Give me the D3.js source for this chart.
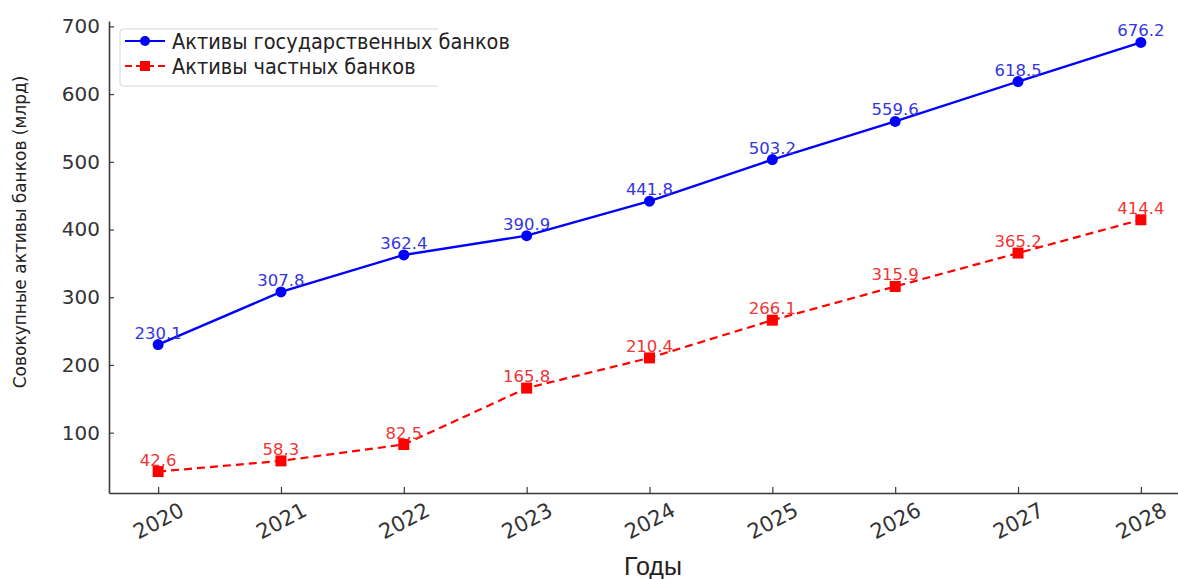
<!DOCTYPE html>
<html>
<head>
<meta charset="utf-8">
<script src="https://cdn.jsdelivr.net/npm/d3@7"></script>
<style>
  body { margin: 0; background: #fff; overflow: hidden; }
  svg { display: block; }
</style>
</head>
<body>
<script>
const years = [2020, 2021, 2022, 2023, 2024, 2025, 2026, 2027, 2028];
const stateAssets = [230.1, 307.8, 362.4, 390.9, 441.8, 503.2, 559.6, 618.5, 676.2];
const privateAssets = [42.6, 58.3, 82.5, 165.8, 210.4, 266.1, 315.9, 365.2, 414.4];
const yTicks = [100, 200, 300, 400, 500, 600, 700];
const seriesNames = ["Активы государственных банков", "Активы частных банков"];

const w = 1178, h = 579;

const svg = d3.select("body").append("svg")
  .attr("width", w)
  .attr("height", h);

// scales (the plot runs a bit past the right edge, like the source)
const x = d3.scaleLinear().domain([2019.6, 2028.4]).range([109, 1190]);
const y = d3.scaleLinear().domain([10.9, 707.9]).range([493, 21]);

const axisColor = "#3a3a3a";

// y axis
const yAxis = svg.append("g")
  .attr("transform", "translate(109,0)")
  .call(d3.axisLeft(y).tickValues(yTicks).tickSizeInner(-5).tickSizeOuter(0).tickPadding(9));
yAxis.select(".domain").attr("stroke", axisColor).attr("stroke-width", 1.6);
yAxis.selectAll(".tick line").attr("stroke", axisColor).attr("stroke-width", 1.2);
yAxis.selectAll("text")
  .attr("fill", "#333")
  .style("font-family", "DejaVu Sans")
  .style("font-size", "20px");

// x axis
const xAxis = svg.append("g")
  .attr("transform", "translate(0,493)")
  .call(d3.axisBottom(x).tickValues(years).tickFormat(d3.format("d")).tickSizeInner(-6).tickSizeOuter(0));
xAxis.select(".domain").attr("stroke", axisColor).attr("stroke-width", 1.6);
xAxis.selectAll(".tick line").attr("stroke", axisColor).attr("stroke-width", 1.2);
xAxis.selectAll("text")
  .attr("fill", "#333")
  .attr("dy", null)
  .attr("y", 0)
  .attr("text-anchor", "middle")
  .attr("dominant-baseline", "central")
  .attr("transform", "translate(0,28) rotate(-28)")
  .style("font-family", "DejaVu Sans")
  .style("font-size", "21px");

// axis titles
svg.append("text")
  .attr("transform", "translate(26,232) rotate(-90)")
  .attr("text-anchor", "middle")
  .attr("fill", "#222")
  .style("font-family", "DejaVu Sans")
  .style("font-size", "17px")
  .text("Совокупные активы банков (млрд)");

svg.append("text")
  .attr("x", 653)
  .attr("y", 575)
  .attr("text-anchor", "middle")
  .attr("fill", "#222")
  .style("font-family", "Liberation Sans")
  .style("font-size", "25px")
  .text("Годы");

const line = d3.line()
  .x((d, i) => x(years[i]))
  .y(d => y(d));

// state banks
svg.append("path")
  .datum(stateAssets)
  .attr("d", line)
  .attr("fill", "none")
  .attr("stroke", "#0000ff")
  .attr("stroke-width", 2.4);

svg.selectAll(".pt-state")
  .data(stateAssets)
  .enter().append("circle")
  .attr("class", "pt-state")
  .attr("cx", (d, i) => x(years[i]))
  .attr("cy", d => y(d))
  .attr("r", 5.5)
  .attr("fill", "#0000ff");

svg.selectAll(".lb-state")
  .data(stateAssets)
  .enter().append("text")
  .attr("class", "lb-state")
  .attr("x", (d, i) => x(years[i]))
  .attr("y", d => y(d) - 6)
  .attr("text-anchor", "middle")
  .attr("fill", "#3535e0")
  .style("font-family", "DejaVu Sans")
  .style("font-size", "16.5px")
  .text(d => d.toFixed(1));

// private banks
svg.append("path")
  .datum(privateAssets)
  .attr("d", line)
  .attr("fill", "none")
  .attr("stroke", "#ff0000")
  .attr("stroke-width", 2.2)
  .attr("stroke-dasharray", "8,5");

svg.selectAll(".pt-private")
  .data(privateAssets)
  .enter().append("rect")
  .attr("class", "pt-private")
  .attr("x", (d, i) => x(years[i]) - 5.5)
  .attr("y", d => y(d) - 5.5)
  .attr("width", 11)
  .attr("height", 11)
  .attr("fill", "#ff0000");

svg.selectAll(".lb-private")
  .data(privateAssets)
  .enter().append("text")
  .attr("class", "lb-private")
  .attr("x", (d, i) => x(years[i]))
  .attr("y", d => y(d) - 6)
  .attr("text-anchor", "middle")
  .attr("fill", "#f03535")
  .style("font-family", "DejaVu Sans")
  .style("font-size", "16.5px")
  .text(d => d.toFixed(1));

// legend (frame open on the right, text runs past it as in the source)
const legend = svg.append("g").attr("transform", "translate(120,29)");
legend.append("rect")
  .attr("width", 400)
  .attr("height", 57)
  .attr("fill", "#fff")
  .attr("fill-opacity", 0.85);
legend.append("path")
  .attr("d", "M318,0 H3 Q0,0 0,3 V54 Q0,57 3,57 H318")
  .attr("fill", "none")
  .attr("stroke", "#d5d5d5");

const legendRows = [
  { name: seriesNames[0], color: "#0000ff", dash: null, shape: "circle" },
  { name: seriesNames[1], color: "#ff0000", dash: "7,4", shape: "square" }
];

legendRows.forEach((r, i) => {
  const g = legend.append("g").attr("transform", "translate(0," + (12 + i * 25) + ")");
  g.append("line")
    .attr("x1", 5).attr("x2", 45)
    .attr("stroke", r.color)
    .attr("stroke-width", 2.2)
    .attr("stroke-dasharray", r.dash);
  if (r.shape === "circle") {
    g.append("circle").attr("cx", 25).attr("r", 5).attr("fill", r.color);
  } else {
    g.append("rect").attr("x", 20).attr("y", -5).attr("width", 10).attr("height", 10).attr("fill", r.color);
  }
  g.append("text")
    .attr("x", 52)
    .attr("y", 0)
    .attr("dominant-baseline", "central")
    .attr("fill", "#222")
    .style("font-family", "DejaVu Sans Condensed, DejaVu Sans")
    .style("font-stretch", "condensed")
    .style("font-size", "21.5px")
    .text(r.name);
});
</script>
</body>
</html>
